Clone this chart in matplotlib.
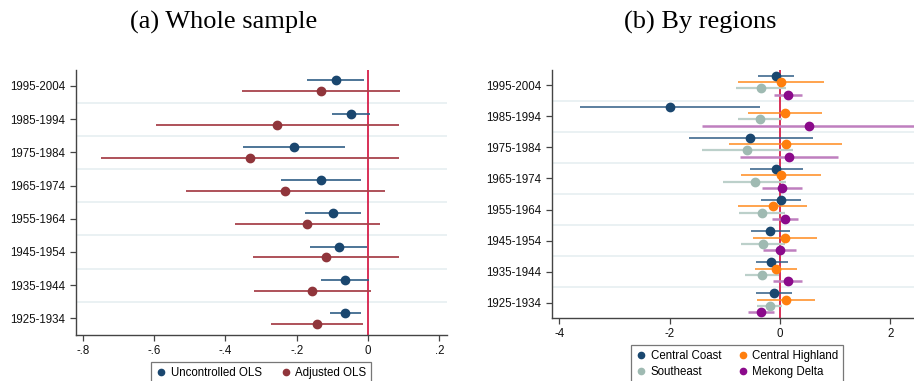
import numpy as np
import matplotlib.pyplot as plt
from matplotlib.lines import Line2D

cohorts = ['1995-2004', '1985-1994', '1975-1984', '1965-1974',
           '1955-1964', '1945-1954', '1935-1944', '1925-1934']

# (a) whole sample: point estimate, lower CI, upper CI
unc_b = [-0.091, -0.049, -0.208, -0.133, -0.098, -0.082, -0.064, -0.065]
unc_lo = [-0.170, -0.100, -0.350, -0.245, -0.176, -0.163, -0.132, -0.108]
unc_hi = [-0.011, 0.005, -0.065, -0.021, -0.019, -0.002, 0.004, -0.021]

adj_b = [-0.133, -0.255, -0.331, -0.232, -0.171, -0.119, -0.156, -0.143]
adj_lo = [-0.354, -0.596, -0.748, -0.510, -0.374, -0.323, -0.319, -0.271]
adj_hi = [0.089, 0.088, 0.088, 0.048, 0.033, 0.088, 0.008, -0.014]

# (b) by regions
cc_b = [-0.073, -1.988, -0.539, -0.073, 0.018, -0.182, -0.158, -0.115]
cc_lo = [-0.394, -3.618, -1.655, -0.552, -0.339, -0.527, -0.442, -0.436]
cc_hi = [0.255, -0.358, 0.594, 0.418, 0.376, 0.176, 0.139, 0.212]

ch_b = [0.018, 0.091, 0.109, 0.012, -0.133, 0.091, -0.067, 0.109]
ch_lo = [-0.758, -0.582, -0.921, -0.709, -0.764, -0.485, -0.455, -0.418]
ch_hi = [0.800, 0.758, 1.127, 0.739, 0.491, 0.679, 0.315, 0.636]

se_b = [-0.352, -0.364, -0.600, -0.455, -0.321, -0.309, -0.333, -0.188]
se_lo = [-0.800, -0.758, -1.418, -1.030, -0.745, -0.709, -0.636, -0.412]
se_hi = [0.103, 0.030, 0.230, 0.115, 0.097, 0.091, -0.024, 0.042]

md_b = [0.139, 0.521, 0.164, 0.030, 0.091, -0.006, 0.139, -0.352]
md_lo = [-0.103, -1.406, -0.727, -0.333, -0.145, -0.303, -0.121, -0.582]
md_hi = [0.394, 2.600, 1.048, 0.394, 0.327, 0.285, 0.394, -0.115]

plt.rcParams['font.family'] = ['Liberation Sans', 'DejaVu Sans']
tick_col = '#444444'
grid_col = '#e6eff1'
zero_col = '#d6204a'


def style_axes(ax):
    for s in ['top', 'right']:
        ax.spines[s].set_visible(False)
    for s in ['left', 'bottom']:
        ax.spines[s].set_color(tick_col)
        ax.spines[s].set_linewidth(1.0)
    ax.tick_params(axis='both', colors=tick_col, labelcolor='#111111',
                   labelsize=8.3, length=4, width=0.9)
    ax.set_yticks(range(len(cohorts)))
    ax.set_yticklabels(cohorts)
    for k in range(len(cohorts) - 1):
        ax.axhline(k + 0.5, color=grid_col, lw=1.2, zorder=0)
    ax.axvline(0, color=zero_col, lw=1.3, zorder=1)


def draw(ax, b, lo, hi, off, mcol, lcol, lw):
    y = np.arange(len(cohorts)) + off
    ax.hlines(y, lo, hi, color=lcol, lw=lw, zorder=2)
    ax.plot(b, y, 'o', color=mcol, ms=6, zorder=3, lw=0)


fig = plt.figure(figsize=(9.14, 3.81), dpi=100)

ax1 = fig.add_axes([0.0832, 0.1207, 0.4059, 0.6956])
style_axes(ax1)
draw(ax1, unc_b, unc_lo, unc_hi, -0.165, '#1a476f', '#2f5d85', 1.2)
draw(ax1, adj_b, adj_lo, adj_hi, 0.165, '#90353b', '#a8434c', 1.3)
ax1.set_xlim(-0.819, 0.2216)
ax1.set_ylim(7.5, -0.48)
ax1.set_xticks([-0.8, -0.6, -0.4, -0.2, 0, 0.2])
ax1.set_xticklabels(['-.8', '-.6', '-.4', '-.2', '0', '.2'])

ax2 = fig.add_axes([0.6036, 0.1661, 0.3964, 0.6502])
style_axes(ax2)
draw(ax2, cc_b, cc_lo, cc_hi, -0.30, '#1a476f', '#2f5d85', 1.1)
draw(ax2, ch_b, ch_lo, ch_hi, -0.10, '#ff7f0e', '#ff8a1c', 1.1)
draw(ax2, se_b, se_lo, se_hi, 0.10, '#9fbab2', '#bcd0ca', 1.6)
draw(ax2, md_b, md_lo, md_hi, 0.30, '#8b0a8b', '#bf7fbf', 1.8)
ax2.set_xlim(-4.14, 2.43)
ax2.set_ylim(7.48, -0.49)
ax2.set_xticks([-4, -2, 0, 2])
ax2.set_xticklabels(['-4', '-2', '0', '2'])

fig.text(0.245, 0.94, '(a) Whole sample', family='Liberation Serif',
         fontsize=19, ha='center', va='center')
fig.text(0.766, 0.94, '(b) By regions', family='Liberation Serif',
         fontsize=19, ha='center', va='center')


def h(c):
    return Line2D([], [], marker='o', color=c, ls='none', ms=4.5)


leg1 = fig.legend([h('#1a476f'), h('#90353b')], ['Uncontrolled OLS', 'Adjusted OLS'],
                  loc='upper center', bbox_to_anchor=(0.2855, 0.05), ncol=2,
                  fontsize=8.3, frameon=True, fancybox=False, edgecolor='#555555',
                  handletextpad=0.3, columnspacing=1.6, borderpad=0.4,
                  handlelength=1.0, borderaxespad=0)
leg1.get_frame().set_linewidth(0.9)

leg2 = fig.legend([h('#1a476f'), h('#9fbab2'), h('#ff7f0e'), h('#8b0a8b')],
                  ['Central Coast', 'Southeast', 'Central Highland', 'Mekong Delta'],
                  loc='upper center', bbox_to_anchor=(0.8063, 0.0945), ncol=2,
                  fontsize=8.3, frameon=True, fancybox=False, edgecolor='#555555',
                  handletextpad=0.3, columnspacing=1.4, borderpad=0.4,
                  labelspacing=0.4, handlelength=1.0, borderaxespad=0)
leg2.get_frame().set_linewidth(0.9)

fig.savefig('out.png', dpi=100)
